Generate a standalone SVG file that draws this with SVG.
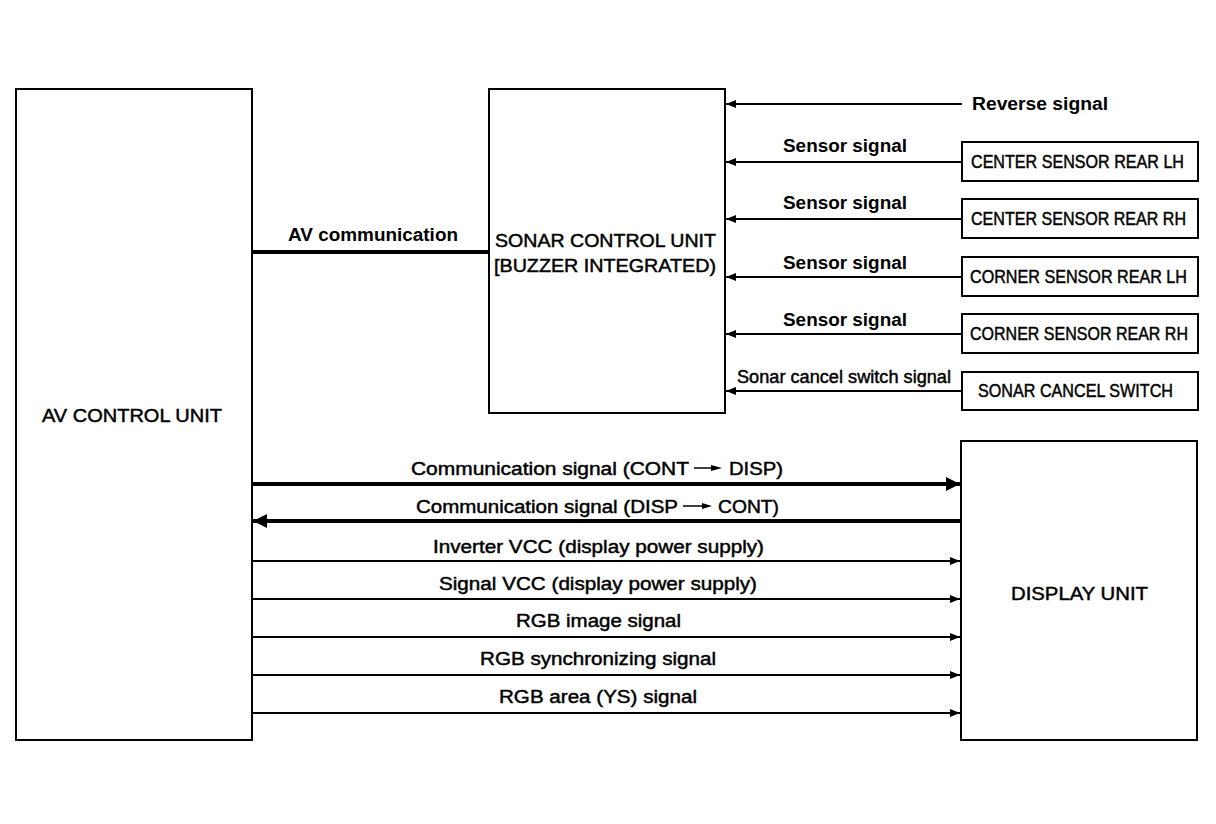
<svg xmlns="http://www.w3.org/2000/svg" width="1216" height="824" viewBox="0 0 1216 824">
<defs>
<style>
.box{fill:#fff;stroke:#000;stroke-width:2}
.t{font-family:"Liberation Sans",Arial,sans-serif;font-size:18px;fill:#000;stroke:#000;stroke-width:0.45}
.b{font-weight:bold;stroke-width:0}
.thin{stroke:#000;stroke-width:2;fill:none}
.thick{stroke:#000;stroke-width:4;fill:none}
</style>
<marker id="as" viewBox="0 0 10 8" refX="10" refY="4" markerWidth="10" markerHeight="8" markerUnits="userSpaceOnUse" orient="auto">
<path d="M0,0 L10,4 L0,8 Z" fill="#000"/>
</marker>
<marker id="al" viewBox="0 0 14 14" refX="14" refY="7" markerWidth="14" markerHeight="14" markerUnits="userSpaceOnUse" orient="auto">
<path d="M0,0 L14,7 L0,14 Z" fill="#000"/>
</marker>
</defs>
<rect width="1216" height="824" fill="#fff"/>

<g id="av-control-unit">
<rect class="box" x="16" y="89" width="236" height="651"/>
<text class="t" x="42" y="422" textLength="180" lengthAdjust="spacingAndGlyphs">AV CONTROL UNIT</text>
</g>

<g id="sonar-control-unit">
<rect class="box" x="489" y="89" width="236" height="324"/>
<text class="t" x="495" y="247" textLength="221" lengthAdjust="spacingAndGlyphs">SONAR CONTROL UNIT</text>
<text class="t" x="494" y="272" textLength="222" lengthAdjust="spacingAndGlyphs">[BUZZER INTEGRATED)</text>
</g>

<g id="display-unit">
<rect class="box" x="961" y="441" width="236" height="299"/>
<text class="t" x="1011" y="600" textLength="137" lengthAdjust="spacingAndGlyphs">DISPLAY UNIT</text>
</g>

<g id="center-sensor-rear-lh">
<rect class="box" x="962" y="142" width="236" height="39"/>
<text class="t" x="971" y="168" textLength="213" lengthAdjust="spacingAndGlyphs">CENTER SENSOR REAR LH</text>
</g>
<g id="center-sensor-rear-rh">
<rect class="box" x="962" y="199" width="236" height="39"/>
<text class="t" x="971" y="225" textLength="215" lengthAdjust="spacingAndGlyphs">CENTER SENSOR REAR RH</text>
</g>
<g id="corner-sensor-rear-lh">
<rect class="box" x="962" y="257" width="236" height="39"/>
<text class="t" x="970" y="283" textLength="217" lengthAdjust="spacingAndGlyphs">CORNER SENSOR REAR LH</text>
</g>
<g id="corner-sensor-rear-rh">
<rect class="box" x="962" y="314" width="236" height="39"/>
<text class="t" x="970" y="340" textLength="218" lengthAdjust="spacingAndGlyphs">CORNER SENSOR REAR RH</text>
</g>
<g id="sonar-cancel-switch">
<rect class="box" x="962" y="372" width="236" height="38"/>
<text class="t" x="978" y="397" textLength="195" lengthAdjust="spacingAndGlyphs">SONAR CANCEL SWITCH</text>
</g>

<g id="connectors">
<line class="thin" x1="962" y1="104" x2="726" y2="104" stroke-width="1.5" marker-end="url(#as)"/>
<line class="thin" x1="962" y1="162" x2="726" y2="162" marker-end="url(#as)"/>
<line class="thin" x1="962" y1="219" x2="726" y2="219" marker-end="url(#as)"/>
<line class="thin" x1="962" y1="277" x2="726" y2="277" marker-end="url(#as)"/>
<line class="thin" x1="962" y1="334" x2="726" y2="334" marker-end="url(#as)"/>
<line class="thin" x1="962" y1="391" x2="726" y2="391" marker-end="url(#as)"/>
<line class="thick" x1="252" y1="252" x2="489" y2="252"/>
<line class="thick" x1="252" y1="484" x2="960" y2="484" marker-end="url(#al)"/>
<line class="thick" x1="961" y1="521" x2="253" y2="521" marker-end="url(#al)"/>
<line class="thin" x1="252" y1="561" x2="960" y2="561" marker-end="url(#as)"/>
<line class="thin" x1="252" y1="599" x2="960" y2="599" marker-end="url(#as)"/>
<line class="thin" x1="252" y1="637" x2="960" y2="637" marker-end="url(#as)"/>
<line class="thin" x1="252" y1="675" x2="960" y2="675" marker-end="url(#as)"/>
<line class="thin" x1="252" y1="713" x2="960" y2="713" marker-end="url(#as)"/>
</g>

<g id="labels">
<text class="t b" x="972" y="110" textLength="136" lengthAdjust="spacingAndGlyphs">Reverse signal</text>
<text class="t b" x="783" y="152" textLength="124" lengthAdjust="spacingAndGlyphs">Sensor signal</text>
<text class="t b" x="783" y="209" textLength="124" lengthAdjust="spacingAndGlyphs">Sensor signal</text>
<text class="t b" x="783" y="269" textLength="124" lengthAdjust="spacingAndGlyphs">Sensor signal</text>
<text class="t b" x="783" y="326" textLength="124" lengthAdjust="spacingAndGlyphs">Sensor signal</text>
<text class="t" x="737" y="383" textLength="214" lengthAdjust="spacingAndGlyphs">Sonar cancel switch signal</text>
<text class="t b" x="288" y="241" textLength="170" lengthAdjust="spacingAndGlyphs">AV communication</text>

<text class="t" x="411" y="475" textLength="278" lengthAdjust="spacingAndGlyphs">Communication signal  (CONT</text>
<line x1="694" y1="468" x2="714" y2="468" stroke="#000" stroke-width="1.5"/>
<path d="M711,465 L722,468 L711,471 Z" fill="#000"/>
<text class="t" x="729" y="475" textLength="54" lengthAdjust="spacingAndGlyphs">DISP)</text>

<text class="t" x="416" y="513" textLength="262" lengthAdjust="spacingAndGlyphs">Communication signal (DISP</text>
<line x1="683" y1="506" x2="704" y2="506" stroke="#000" stroke-width="1.5"/>
<path d="M702,503 L712,506 L702,509 Z" fill="#000"/>
<text class="t" x="718" y="513" textLength="61" lengthAdjust="spacingAndGlyphs">CONT)</text>

<text class="t" x="433" y="553" textLength="331" lengthAdjust="spacingAndGlyphs">Inverter VCC (display power supply)</text>
<text class="t" x="439" y="590" textLength="318" lengthAdjust="spacingAndGlyphs">Signal VCC (display power supply)</text>
<text class="t" x="516" y="627" textLength="165" lengthAdjust="spacingAndGlyphs">RGB image signal</text>
<text class="t" x="480" y="665" textLength="236" lengthAdjust="spacingAndGlyphs">RGB synchronizing signal</text>
<text class="t" x="499" y="703" textLength="198" lengthAdjust="spacingAndGlyphs">RGB area (YS) signal</text>
</g>
</svg>
